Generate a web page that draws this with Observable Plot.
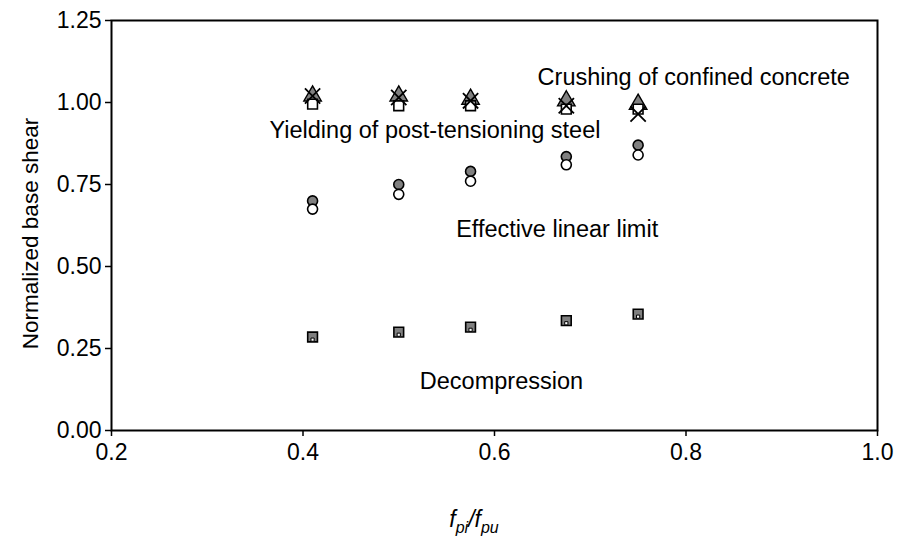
<!DOCTYPE html>
<html>
<head>
<meta charset="utf-8">
<script src="https://cdn.jsdelivr.net/npm/d3@7"></script>
<script src="https://cdn.jsdelivr.net/npm/@observablehq/plot@0.6"></script>
<style>
  body { margin: 0; background: #fff; }
  #chart { width: 897px; height: 546px; }
</style>
</head>
<body>
<div id="chart"></div>
<script>
// f_pi / f_pu values
const ratios = [0.41, 0.5, 0.575, 0.675, 0.75];
// Crushing of confined concrete (grey triangles)
const crushingTri = [1.02, 1.02, 1.01, 1.005, 0.995];
// Crushing of confined concrete (crosses)
const crushingX = [1.02, 1.015, 1.005, 0.99, 0.965];
// Yielding of post-tensioning steel (open squares)
const yieldSq = [0.995, 0.99, 0.99, 0.98, 0.98];
// Effective linear limit (filled circles / open circles)
const linFilled = [0.70, 0.75, 0.79, 0.835, 0.87];
const linOpen = [0.675, 0.72, 0.76, 0.81, 0.84];
// Decompression (grey squares / small dots)
const decompSq = [0.285, 0.30, 0.315, 0.335, 0.355];
const decompDot = [0.277, 0.292, 0.307, 0.327, 0.347];

const xTicks = [0.2, 0.4, 0.6, 0.8, 1.0];
const yTicks = [0, 0.25, 0.5, 0.75, 1.0, 1.25];

const labels = [
  {text: "Crushing of confined concrete", x: 0.645, y: 1.076},
  {text: "Yielding of post-tensioning steel", x: 0.365, y: 0.915},
  {text: "Effective linear limit", x: 0.56, y: 0.613},
  {text: "Decompression", x: 0.522, y: 0.149}
];

const pts = (ys) => ratios.map((x, i) => ({x, y: ys[i]}));

const W = 897, H = 546, mL = 111, mR = 20, mT = 20, mB = 116;
const FONT = "'Liberation Sans', Arial, sans-serif";

const plot = Plot.plot({
  width: W, height: H,
  marginLeft: mL, marginRight: mR, marginTop: mT, marginBottom: mB,
  style: {fontFamily: FONT, fontSize: "22px", background: "#fff", color: "#000"},
  x: {domain: [0.2, 1.0]},
  y: {domain: [0, 1.25]},
  marks: [
    Plot.axisX({ticks: xTicks, tickFormat: d3.format(".1f"), tickSize: 6, tickPadding: 7, label: null, stroke: "#000", strokeWidth: 1.5, fontSize: 23}),
    Plot.axisY({ticks: yTicks, tickFormat: d3.format(".2f"), tickSize: 6, tickPadding: 4, label: null, stroke: "#000", strokeWidth: 1.5, fontSize: 23}),
    Plot.text(["Normalized base shear"], {frameAnchor: "left", textAnchor: "middle", dx: -81, dy: 8, rotate: -90, fontSize: 22.5, fill: "#000", text: d => d}),
    Plot.frame({stroke: "#000", strokeWidth: 2}),
    Plot.dot(pts(crushingTri), {x: "x", y: "y", symbol: "triangle", r: 6.5, fill: "#808080", stroke: "#000", strokeWidth: 1.4}),
    Plot.dot(pts(yieldSq), {x: "x", y: "y", symbol: "square", r: 5.5, fill: "#fff", stroke: "#000", strokeWidth: 1.6}),
    Plot.dot(pts(crushingX), {x: "x", y: "y", symbol: "times", r: 7, stroke: "#000", strokeWidth: 1.8}),
    Plot.dot(pts(linFilled), {x: "x", y: "y", symbol: "circle", r: 5, fill: "#808080", stroke: "#000", strokeWidth: 1.6}),
    Plot.dot(pts(linOpen), {x: "x", y: "y", symbol: "circle", r: 5, fill: "#fff", stroke: "#000", strokeWidth: 1.6}),
    Plot.dot(pts(decompSq), {x: "x", y: "y", symbol: "square", r: 5.5, fill: "#808080", stroke: "#000", strokeWidth: 1.6}),
    Plot.dot(pts(decompDot), {x: "x", y: "y", symbol: "square", r: 1.8, fill: "#fff", stroke: "#000", strokeWidth: 1}),
    Plot.text(labels, {x: "x", y: "y", text: "text", textAnchor: "start", fontSize: 23.5, fill: "#000"})
  ]
});

document.getElementById("chart").appendChild(plot);

const svg = d3.select(plot);

// x axis title with italic subscripts
const t = svg.append("text")
  .attr("x", 474)
  .attr("y", 527)
  .attr("text-anchor", "middle")
  .attr("font-style", "italic")
  .attr("font-family", FONT)
  .attr("font-size", 23)
  .attr("fill", "#000");
t.append("tspan").text("f");
t.append("tspan").attr("font-size", 16).attr("dy", 6).text("pi");
t.append("tspan").attr("dy", -6).text("/f");
t.append("tspan").attr("font-size", 16).attr("dy", 6).text("pu");
</script>
</body>
</html>
